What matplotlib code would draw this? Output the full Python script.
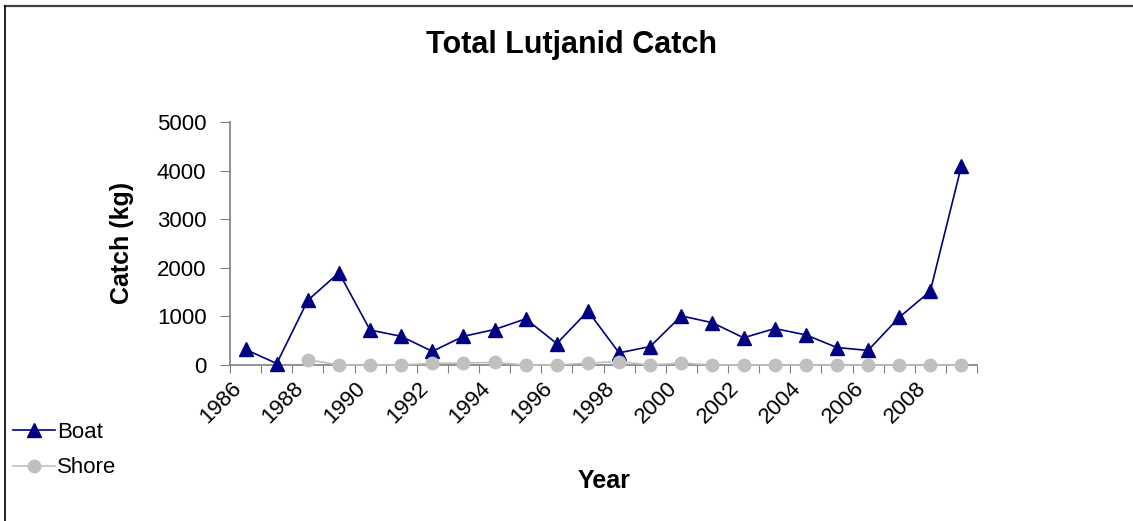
import numpy as np
import matplotlib
matplotlib.use("Agg")
import matplotlib.pyplot as plt
from matplotlib.lines import Line2D

plt.rcParams["font.family"] = ["Liberation Sans", "DejaVu Sans"]

years = list(range(1986, 2010))
boat = [320, 30, 1330, 1900, 720, 590, 280, 590, 730, 950, 440, 1110,
        250, 380, 1010, 870, 560, 750, 620, 360, 300, 980, 1520, 4100]
shore = [np.nan, np.nan, 110, 0, 0, 0, 35, 40, 55, 0, 0, 40,
         70, 0, 40, 0, 0, 0, 0, 0, 0, 0, 0, 0]
y_ticks = [0, 1000, 2000, 3000, 4000, 5000]

fig = plt.figure(figsize=(11.33, 5.21), dpi=100)
ax = fig.add_axes([230 / 1133, 1 - 365 / 521, 747 / 1133, 243 / 521])

x = np.arange(len(years))
ax.plot(x, boat, color="#000080", lw=1.2, marker="^", markersize=10,
        label="Boat", clip_on=False, zorder=3)
ax.plot(x, shore, color="#c0c0c0", lw=1.2, marker="o", markersize=9,
        label="Shore", clip_on=False, zorder=4)

ax.set_xlim(-0.5, len(years) - 0.5)
ax.set_ylim(0, 5000)

# category boundaries get tick marks, every other category gets a label
ax.set_xticks(np.arange(len(years) + 1) - 0.5)
ax.set_xticklabels([])
ax.set_xticks(x[::2], minor=True)
ax.set_xticklabels([str(y) for y in years[::2]], minor=True, rotation=45,
                   ha="right", va="top", fontsize=16)
ax.tick_params(axis="x", which="major", length=6, color="#808080", direction="out")
ax.tick_params(axis="x", which="minor", length=0, pad=9)
ax.set_yticks(y_ticks)
ax.set_yticklabels([str(v) for v in y_ticks], fontsize=16)
ax.tick_params(axis="y", length=7, color="#808080", direction="out", pad=10)

for s in ["top", "right"]:
    ax.spines[s].set_visible(False)
for s in ["left", "bottom"]:
    ax.spines[s].set_color("#808080")
    ax.spines[s].set_linewidth(1.2)

fig.text(572 / 1133, 1 - 45 / 521, "Total Lutjanid Catch", ha="center",
         va="center", fontsize=22, fontweight="bold")
fig.text(122 / 1133, 1 - 243 / 521, "Catch (kg)", ha="center", va="center",
         rotation=90, fontsize=18, fontweight="bold")
fig.text(604 / 1133, 1 - 481 / 521, "Year", ha="center", va="center",
         fontsize=18, fontweight="bold")

fig.legend(loc="upper left", bbox_to_anchor=(13 / 1133, 1 - 422 / 521),
           frameon=False, fontsize=16, handlelength=1.9, handletextpad=0.1,
           labelspacing=0.65, borderpad=0, borderaxespad=0)

# chart border (only top and left edges are inside the image)
fig.add_artist(Line2D([4.5 / 1133, 1], [1 - 5.5 / 521] * 2, color="#404040", lw=1.6))
fig.add_artist(Line2D([4.5 / 1133] * 2, [0, 1 - 5.5 / 521], color="#000000", lw=1.2))

fig.savefig("out.png", dpi=100)
